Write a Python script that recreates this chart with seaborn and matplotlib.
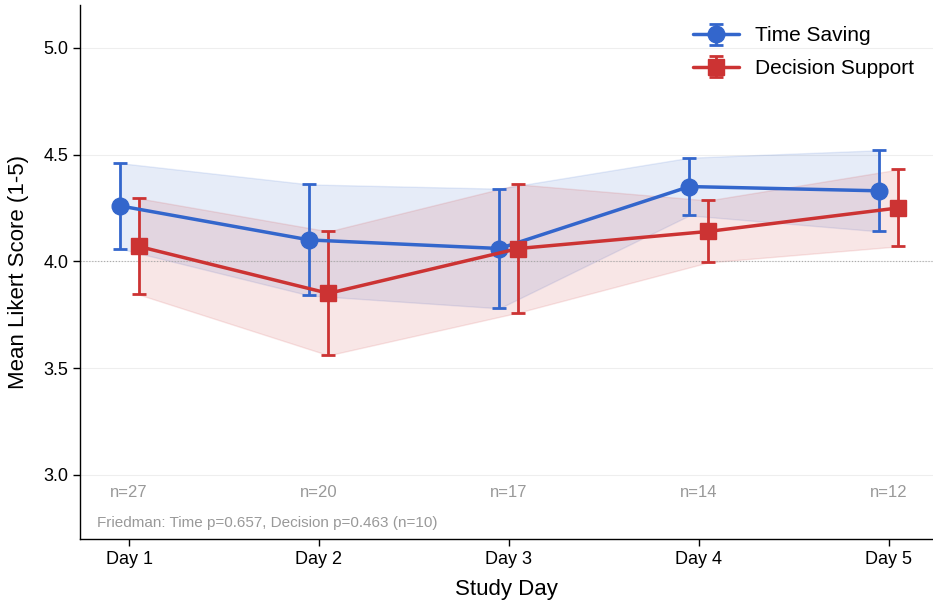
import numpy as np
import pandas as pd
import matplotlib
matplotlib.use("Agg")
import matplotlib.pyplot as plt
import seaborn as sns

days = ["Day 1", "Day 2", "Day 3", "Day 4", "Day 5"]
time_mean = [4.26, 4.10, 4.06, 4.35, 4.33]
time_err = [0.20, 0.26, 0.28, 0.135, 0.19]
decision_mean = [4.07, 3.85, 4.06, 4.14, 4.25]
decision_err = [0.225, 0.29, 0.30, 0.145, 0.18]
n_per_day = [27, 20, 17, 14, 12]
friedman_note = "Friedman: Time p=0.657, Decision p=0.463 (n=10)"

sns.set_theme(style="whitegrid")
plt.rcParams["font.family"] = ["Liberation Sans", "DejaVu Sans"]
plt.rcParams["text.color"] = "black"
plt.rcParams["axes.labelcolor"] = "black"
plt.rcParams["xtick.color"] = "black"
plt.rcParams["ytick.color"] = "black"

fig = plt.figure(figsize=(9.33, 6.06), dpi=100)
ax = fig.add_axes([80 / 933, 67 / 606, 853 / 933, 534 / 606])

x = np.arange(len(days))
blue = "#3366cc"
red = "#cc3333"
off = 0.05

series = [
    ("Time Saving", time_mean, time_err, blue, "o", -off),
    ("Decision Support", decision_mean, decision_err, red, "s", off),
]
for label, mean, err, col, mk, dx in series:
    m = np.array(mean)
    e = np.array(err)
    xs = x + dx
    ax.fill_between(xs, m - e, m + e, color=col, alpha=0.12, lw=1)
    ax.errorbar(xs, m, yerr=e, color=col, marker=mk, markersize=12,
                lw=2.5, elinewidth=2, capsize=5, capthick=2, label=label, zorder=3)

ax.axhline(4.0, color="#aaaaaa", ls=":", lw=0.8, zorder=1)

for xi, n in zip(x, n_per_day):
    ax.text(xi, 2.92, f"n={n}", ha="center", va="center", color="#999999", fontsize=12)
ax.text(0.02, 0.03, friedman_note, transform=ax.transAxes, ha="left", va="center",
        color="#999999", fontsize=11)

ax.set_xlim(-0.258, 4.232)
ax.set_ylim(2.7, 5.2)
ax.set_xticks(x)
ax.set_xticklabels(days, fontsize=13)
ax.set_yticks([3.0, 3.5, 4.0, 4.5, 5.0])
ax.set_yticklabels(["3.0", "3.5", "4.0", "4.5", "5.0"], fontsize=13)
ax.set_xlabel("Study Day", fontsize=16, labelpad=8)
ax.set_ylabel("Mean Likert Score (1-5)", fontsize=16, labelpad=10)
ax.grid(axis="x", visible=False)
ax.grid(axis="y", color="#eeeeee", lw=0.8)
ax.tick_params(axis="both", which="both", length=5, width=1, color="black", bottom=True, left=True)
for s in ["left", "bottom"]:
    ax.spines[s].set_color("black")
    ax.spines[s].set_linewidth(1)
sns.despine(ax=ax)

ax.legend(loc="upper right", frameon=False, fontsize=15, bbox_to_anchor=(1.0, 0.995),
          handlelength=2.2, labelspacing=0.65)

fig.savefig("out.png", dpi=100)
